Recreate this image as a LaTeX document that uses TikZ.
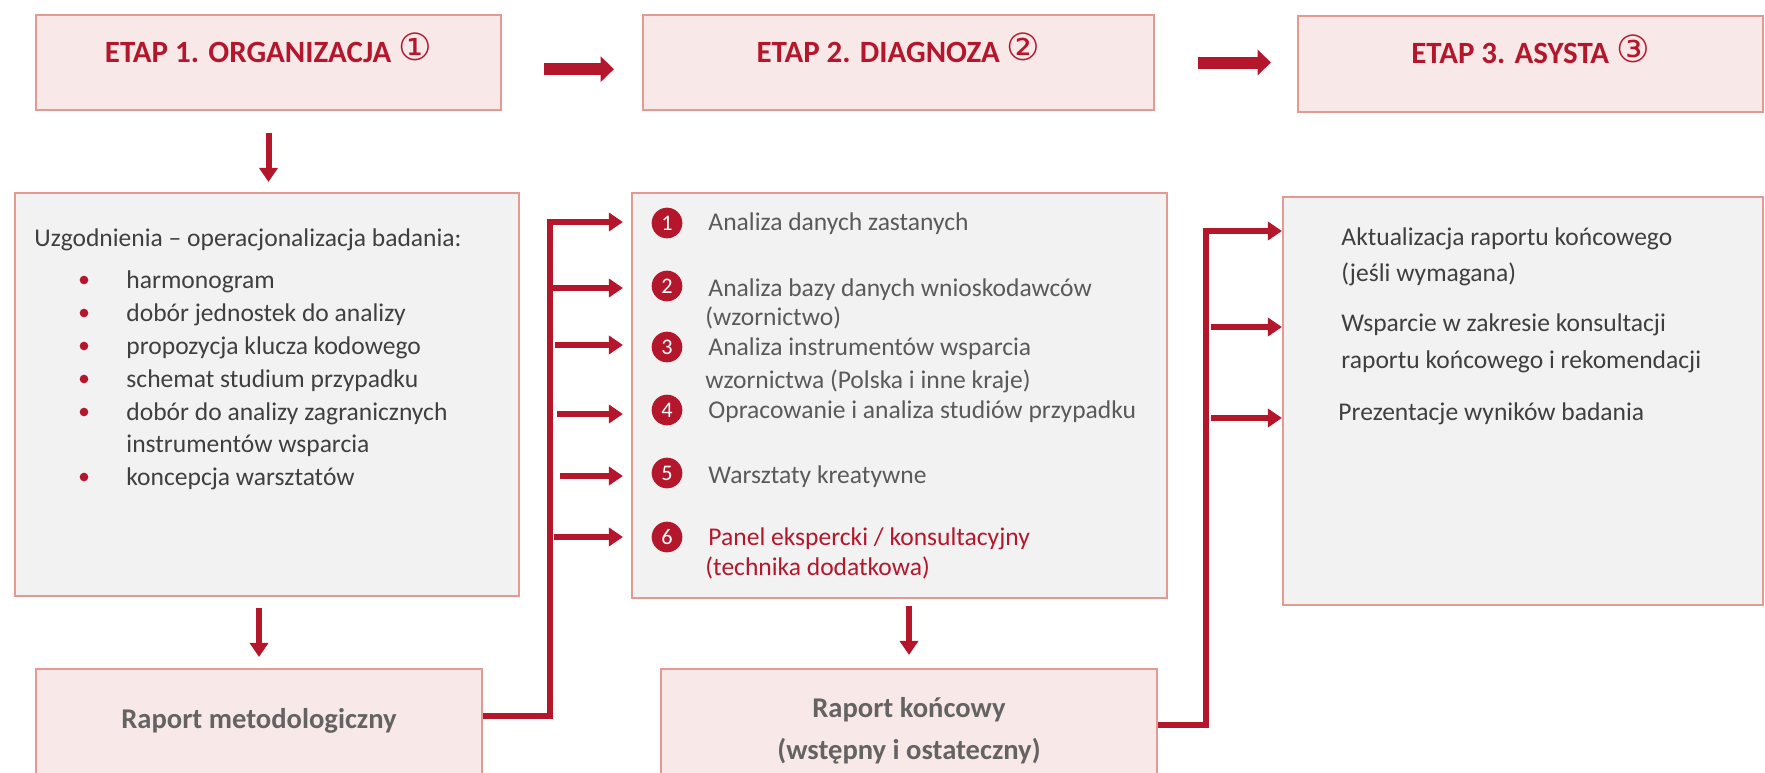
\documentclass[tikz,border=0pt]{standalone}
\usepackage{fontspec}
\setmainfont{Carlito}
\newfontfamily\circfont{DejaVu Sans}
\usepackage{tikz}
\usetikzlibrary{arrows.meta,fit}
\definecolor{etapRed}{HTML}{B4172C}
\definecolor{etapPink}{HTML}{F8E9E8}
\definecolor{etapLine}{HTML}{E39A93}
\definecolor{bodyGrey}{HTML}{F2F2F2}
\definecolor{textDark}{HTML}{3F3F3F}
\definecolor{textMid}{HTML}{5A5A5A}
\definecolor{reportGrey}{HTML}{636363}
\newcommand{\stagenum}[1]{\raisebox{0.8pt}{\circfont\mdseries\fontsize{16}{16}\selectfont #1}}
\tikzset{
  stagebox/.style={rectangle, draw=etapLine, fill=etapPink, line width=0.9pt, inner sep=0pt, font=\fontsize{13.2}{16}\selectfont\bfseries, text=etapRed},
  contentbox/.style={rectangle, draw=etapLine, fill=bodyGrey, line width=0.9pt, inner sep=0pt},
  reportbox/.style={rectangle, draw=etapLine, fill=etapPink, line width=0.9pt, inner sep=0pt, align=center, font=\fontsize{12.2}{17.9}\selectfont\bfseries, text=reportGrey},
  linetext/.style={anchor=base west, inner sep=0pt, font=\fontsize{10.9}{13}\selectfont, text=#1},
  linetext/.default=textDark,
  reddot/.style={circle, fill=etapRed, inner sep=0pt, minimum size=0.13cm},
  numdot/.style={circle, fill=etapRed, inner sep=0pt, minimum size=0.46cm, text=white, font=\fontsize{9.5}{9.5}\selectfont},
  bigarrow/.style={-{Triangle[length=0.2cm,width=0.375cm]}, line width=0.18cm, draw=etapRed},
  linkarrow/.style={-{Triangle[length=0.21cm,width=0.27cm]}, line width=0.09cm, draw=etapRed},
}

\begin{document}
\begin{tikzpicture}[x=0.015cm,y=-0.015cm]
  \fill[white] (0,0) rectangle (1765,772);
  \useasboundingbox (0,0) rectangle (1765,772);

  \node[stagebox, fit={(36,15) (501,110)}] (etapA) {ETAP 1. ORGANIZACJA \stagenum{①}};
  \node[stagebox, fit={(643,15) (1154,110)}] (etapB) {ETAP 2. DIAGNOZA \stagenum{②}};
  \node[stagebox, fit={(1298,16) (1763,112)}] (etapC) {ETAP 3. ASYSTA \stagenum{③}};

  \node[contentbox, fit={(15,193) (519,596)}] (boxA) {};
  \node[contentbox, fit={(632,193) (1167,598)}] (boxB) {};
  \node[contentbox, fit={(1283,197) (1763,605)}] (boxC) {};

  \node[reportbox, fit={(36,669) (482,793)}] (raportA) {Raport metodologiczny};
  \node[reportbox, fit={(661,669) (1157,813)}] (raportB) {Raport końcowy\\(wstępny i ostateczny)};

  \draw[bigarrow, shorten <=0.63cm, shorten >=0.42cm] ([yshift=-0.1cm]etapA.east) -- ([yshift=-0.1cm]etapB.west);
  \draw[bigarrow, shorten <=0.645cm, shorten >=0.39cm] (etapB.east) -- (etapB.east -| etapC.west);

  \draw[linkarrow, shorten <=0.33cm, shorten >=0.15cm] (etapA.south) -- (etapA.south |- boxA.north);
  \draw[linkarrow, shorten <=0.165cm, shorten >=0.165cm] (raportA.north |- boxA.south) -- (raportA.north);
  \draw[linkarrow, shorten <=0.105cm, shorten >=0.195cm] (raportB.north |- boxB.south) -- (raportB.north);

  % etap 1
  \node[linetext] (introA) at (34,246) {Uzgodnienia – operacjonalizacja badania:};
  \foreach \y/\t [count=\i] in {288/harmonogram, 321/dobór jednostek do analizy, 354/propozycja klucza kodowego, 387/schemat studium przypadku, 420/dobór do analizy zagranicznych, 485/koncepcja warsztatów} {
    \node[reddot] (dotA\i) at (84,\y-8) {};
    \node[linetext] (itemA\i) at (126,\y) {\t};
  }
  \node[linetext] (itemA5b) at (126,452) {instrumentów wsparcia};

  % etap 2
  \foreach \y [count=\i] in {223,286,347,410,473,537}
    \node[numdot] (numB\i) at (667,\y) {\i};
  \node[linetext=textMid] (itemB1) at (708,230) {Analiza danych zastanych};
  \node[linetext=textMid] (itemB2) at (708,296) {Analiza bazy danych wnioskodawców};
  \node[linetext=textMid] (itemB2b) at (705,325) {(wzornictwo)};
  \node[linetext=textMid] (itemB3) at (708,355) {Analiza instrumentów wsparcia};
  \node[linetext=textMid] (itemB3b) at (705,388) {wzornictwa (Polska i inne kraje)};
  \node[linetext=textMid] (itemB4) at (708,418) {Opracowanie i analiza studiów przypadku};
  \node[linetext=textMid] (itemB5) at (708,483) {Warsztaty kreatywne};
  \node[linetext=etapRed] (itemB6) at (708,545) {Panel ekspercki / konsultacyjny};
  \node[linetext=etapRed] (itemB6b) at (705,575) {(technika dodatkowa)};

  \coordinate (trunkA) at (550,222);
  \draw[linkarrow, shorten >=0.12cm] ([yshift=0.225cm]raportA.east) -| (trunkA) -- (trunkA -| boxB.west);
  \foreach \y/\dx [count=\i] in {288/0,345/5,414/7,476/10,537/4} {
    \coordinate (brA\i) at (550+\dx,\y);
    \draw[linkarrow, shorten >=0.12cm] (brA\i) -- (boxB.west |- brA\i);
  }

  % etap 3
  \node[linetext] (itemC1) at (1341,245) {Aktualizacja raportu końcowego};
  \node[linetext] (itemC1b) at (1341,281) {(jeśli wymagana)};
  \node[linetext] (itemC2) at (1341,331) {Wsparcie w zakresie konsultacji};
  \node[linetext] (itemC2b) at (1341,368) {raportu końcowego i rekomendacji};
  \node[linetext] (itemC3) at (1338,420) {Prezentacje wyników badania};

  \coordinate (trunkB) at (1206,231);
  \draw[linkarrow] ([yshift=0.24cm]raportB.east) -| (trunkB) -- (trunkB -| boxC.west);
  \foreach \y [count=\i] in {327,418} {
    \coordinate (brB\i) at (1211,\y);
    \draw[linkarrow] (brB\i) -- (boxC.west |- brB\i);
  }
\end{tikzpicture}
\end{document}
